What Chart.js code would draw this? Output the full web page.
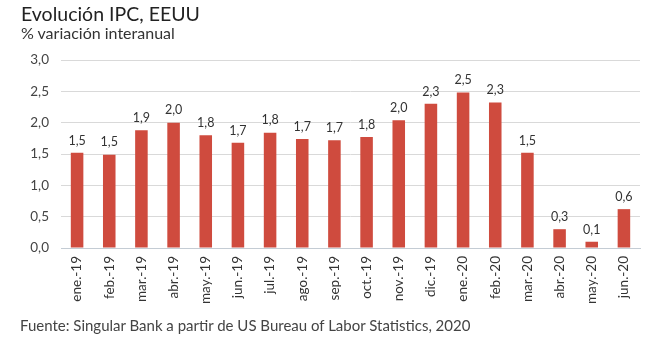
<!DOCTYPE html>
<html>
<head>
<meta charset="utf-8">
<script src="https://cdn.jsdelivr.net/npm/chart.js@4"></script>
<style>
	body { margin: 0; background: #fff; font-family: Lato, "Noto Sans", sans-serif; }
	#wrap { position: relative; width: 650px; height: 347px; }
	#chart { position: absolute; left: 0; top: 0; }
	.txt { position: absolute; white-space: nowrap; color: #222; }
	#title { left: 21px; top: 2px; font-size: 19.5px; }
	#subtitle { left: 21px; top: 23px; font-size: 16px; color: #333; }
	#source { left: 20px; top: 316px; font-size: 15px; color: #444; }
</style>
</head>
<body>
<div id="wrap">
	<canvas id="chart" width="650" height="347"></canvas>
	<div class="txt" id="title">Evolución IPC, EEUU</div>
	<div class="txt" id="subtitle">% variación interanual</div>
	<div class="txt" id="source">Fuente: Singular Bank a partir de US Bureau of Labor Statistics, 2020</div>
</div>
<script>
// months
const categories = ["ene.-19", "feb.-19", "mar.-19", "abr.-19", "may.-19", "jun.-19", "jul.-19", "ago.-19", "sep.-19",
	"oct.-19", "nov.-19", "dic.-19", "ene.-20", "feb.-20", "mar.-20", "abr.-20", "may.-20", "jun.-20"]
// CPI yoy %
const ipc = [1.52, 1.49, 1.88, 2.00, 1.80, 1.68, 1.84, 1.74, 1.72, 1.77, 2.04, 2.30, 2.48, 2.32, 1.52, 0.30, 0.10, 0.62]
// printed labels above the bars
const barLabels = ["1,5", "1,5", "1,9", "2,0", "1,8", "1,7", "1,8", "1,7", "1,7", "1,8", "2,0", "2,3", "2,5", "2,3", "1,5", "0,3", "0,1", "0,6"]
const yTicks = [0, 0.5, 1, 1.5, 2, 2.5, 3]

const FONT = "Lato, 'Noto Sans', sans-serif"

//draw value labels on top of bars
const valueLabels = {
	id: "valueLabels",
	afterDatasetsDraw(chart) {
		const ctx = chart.ctx
		const meta = chart.getDatasetMeta(0)
		ctx.save()
		ctx.font = "12.5px " + FONT
		ctx.fillStyle = "#333"
		ctx.textAlign = "center"
		ctx.textBaseline = "bottom"
		meta.data.forEach((bar, i) => {
			ctx.fillText(barLabels[i], bar.x, bar.y - 6)
		})
		ctx.restore()
	}
}

new Chart(document.getElementById("chart"), {
	type: "bar",
	data: {
		labels: categories,
		datasets: [{
			data: ipc,
			backgroundColor: "#cf4b3e",
			barPercentage: 0.78,
			categoryPercentage: 0.5
		}]
	},
	options: {
		responsive: false,
		animation: false,
		layout: { padding: { top: 60, right: 10, bottom: 44, left: 0 } },
		plugins: {
			legend: { display: false },
			tooltip: { enabled: false }
		},
		scales: {
			x: {
				grid: { display: false, drawTicks: false },
				border: { display: true, color: "#c4ccd4", width: 1 },
				ticks: {
					minRotation: 90, maxRotation: 90, padding: 8, autoSkip: false,
					color: "#333", font: { family: FONT, size: 13.5 }
				},
				afterFit: s => { s.height = 55 }
			},
			y: {
				min: 0, max: 3,
				afterBuildTicks: s => { s.ticks = yTicks.map(v => ({ value: v })) },
				grid: { color: "#d9d9d9", drawTicks: false },
				border: { display: false },
				ticks: {
					padding: 12, color: "#444", font: { family: FONT, size: 13.5 },
					callback: v => v.toFixed(1).replace(".", ",")
				},
				afterFit: s => { s.width = 61 }
			}
		}
	},
	plugins: [valueLabels]
})
</script>
</body>
</html>
